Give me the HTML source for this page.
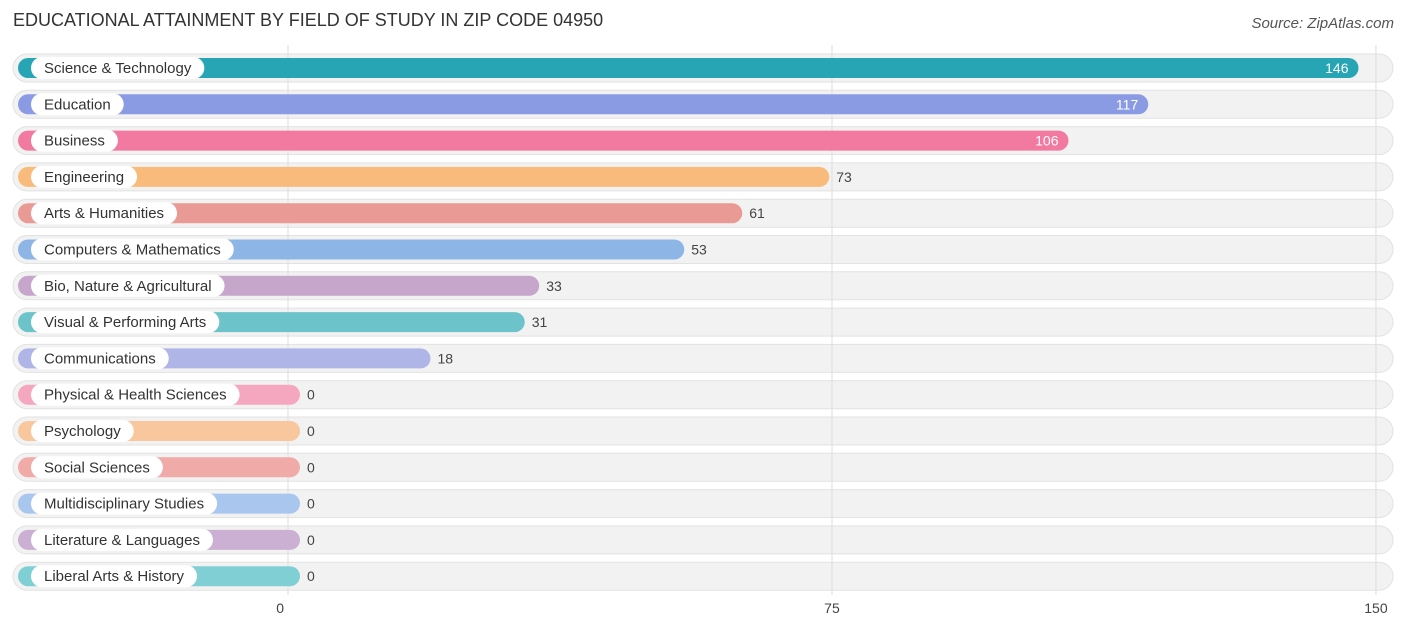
<!DOCTYPE html>
<html><head><meta charset="utf-8"><style>
body{margin:0;width:1406px;height:631px;background:#fff;font-family:"Liberation Sans",sans-serif;position:relative;overflow:hidden}
.t{position:absolute;left:13px;top:10px;font-size:18px;color:#333}
.s{position:absolute;right:12px;top:15px;font-size:15px;color:#555;font-style:italic}
</style></head><body>
<div class="t">EDUCATIONAL ATTAINMENT BY FIELD OF STUDY IN ZIP CODE 04950</div>
<div class="s">Source: ZipAtlas.com</div>
<svg id="c" width="1406" height="631" style="position:absolute;left:0;top:0"></svg>
<script>
const categories=["Science & Technology","Education","Business","Engineering","Arts & Humanities","Computers & Mathematics","Bio, Nature & Agricultural","Visual & Performing Arts","Communications","Physical & Health Sciences","Psychology","Social Sciences","Multidisciplinary Studies","Literature & Languages","Liberal Arts & History"];
const values=[146,117,106,73,61,53,33,31,18,0,0,0,0,0,0];
const colors=["#27a5b5","#8b9be3","#f27aa0","#f8bb7c","#e99a94","#8db6e6","#c6a7cb","#6cc3c9","#b0b5e8","#f5a7bf","#f8c79e","#f0aaa7","#a9c6ee","#cbb0d3","#7fcfd4"];
const ticks=[0,75,150];
const svg=document.getElementById('c');const NS='http://www.w3.org/2000/svg';
const xv=v=>300+v*7.25, xg=v=>288+v*7.253;
const yc=i=>68+i*36.3;
function mk(t,a){const e=document.createElementNS(NS,t);for(const k in a)e.setAttribute(k,a[k]);svg.appendChild(e);return e;}
categories.forEach((c,i)=>{
 const y=yc(i);
 const bg=mk('rect',{x:13,y:y-14,width:1380,height:28,rx:14,fill:'#f2f2f2',stroke:'#e2e2e2'});
 
 
});
ticks.forEach(t=>{
 const l=mk('line',{x1:xg(t),x2:xg(t),y1:45,y2:595,stroke:'#ddd'});
 
 
 const tx=mk('text',{x:xg(t)-(t===0?4:0),y:613,'text-anchor':t===0?'end':'middle','font-size':14,fill:'#444'});
 tx.textContent=t;
 
 
});
categories.forEach((c,i)=>{
 const y=yc(i),v=values[i];
 const b=mk('rect',{x:18,y:y-10,width:xv(v)-18,height:20,rx:10,fill:colors[i]});
 
 
 const lt=mk('text',{x:44,y:y+5,'font-size':15,fill:'#333'});lt.textContent=c;
 const w=lt.getComputedTextLength();
 const lp=mk('rect',{x:31,y:y-11,width:w+26,height:22,rx:11,fill:'#fff'});
 svg.insertBefore(lp,lt);
 
 
 
 
 const inside=v>90;
 const vt=mk('text',{x:inside?xv(v)-10:xv(v)+7,y:y+5,'font-size':14,'text-anchor':inside?'end':'start',fill:inside?'#fff':'#444'});
 vt.textContent=v;
 
 
});
</script>
</body></html>
